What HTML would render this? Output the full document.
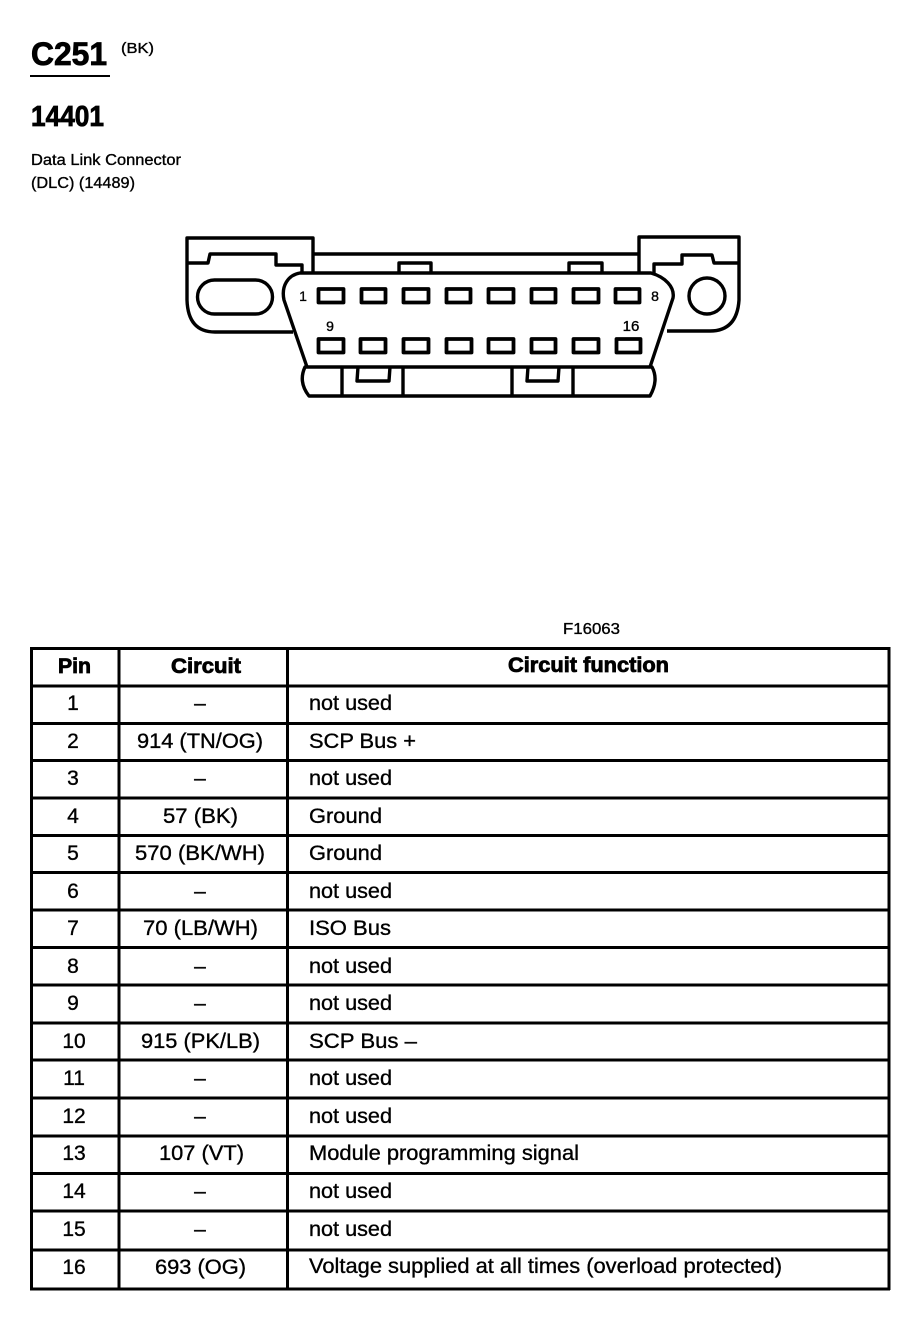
<!DOCTYPE html>
<html>
<head>
<meta charset="utf-8">
<style>
html,body{margin:0;padding:0;background:#fff;width:908px;height:1328px;overflow:hidden}
svg{display:block}
text{font-family:"Liberation Sans",Arial,sans-serif;fill:#000;stroke:#000;stroke-width:.35}
.b{font-weight:bold;stroke-width:.8}
.l{fill:none;stroke:#000;stroke-width:3.4;stroke-linejoin:round}
.p{fill:none;stroke:#000;stroke-width:3.8;stroke-linejoin:round}
.tb{stroke:#000;stroke-width:3}
.m{text-anchor:middle}
</style>
</head>
<body>
<svg width="908" height="1328" viewBox="0 0 908 1328" xmlns="http://www.w3.org/2000/svg">
<text class="b" x="31" y="65" font-size="32" textLength="76" lengthAdjust="spacingAndGlyphs">C251</text>
<text x="121" y="53" font-size="15" textLength="33" lengthAdjust="spacingAndGlyphs">(BK)</text>
<rect x="30" y="75" width="80" height="2" fill="#000"/>
<text class="b" x="31" y="126" font-size="29" textLength="73" lengthAdjust="spacingAndGlyphs">14401</text>
<text x="31" y="165" font-size="15.500" textLength="150" lengthAdjust="spacingAndGlyphs">Data Link Connector</text>
<text x="31" y="188" font-size="15.500" textLength="104" lengthAdjust="spacingAndGlyphs">(DLC) (14489)</text>

<path class="l" d="M293 332H215Q188 332 187 300V238H313V273"/>
<path class="l" d="M187 263H208L210 254H276V265H302V273"/>
<rect class="l" x="197.500" y="280" width="75" height="34" rx="17"/>
<path class="l" d="M313 254H639"/>
<path class="l" d="M399 273V263H431V273"/>
<path class="l" d="M569 273V263H602V273"/>
<path class="l" d="M307 367L284 300C281 286 288 275 300 273H651C665 277 675 287 673 298L650 367"/>
<path class="l" d="M305 367H652Q659 380 650 396H309Q298 382 305 367Z"/>
<path class="l" d="M342 367V396M403 367V396M512 367V396M573 367V396"/>
<path class="l" d="M358 367L357 381H389L390 367"/>
<path class="l" d="M528 367L527 381H558L559 367"/>
<path class="l" d="M639 273V237H739V300Q737 331 710 331H667"/>
<path class="l" d="M654 273V264H682V255H712L714 263H739"/>
<circle class="l" cx="707" cy="296" r="18"/>
<rect class="p" x="318.500" y="289" width="25" height="13.500"/>
<rect class="p" x="361.500" y="289" width="24" height="13.500"/>
<rect class="p" x="403.500" y="289" width="25" height="13.500"/>
<rect class="p" x="446.500" y="289" width="24" height="13.500"/>
<rect class="p" x="488.500" y="289" width="25" height="13.500"/>
<rect class="p" x="531.500" y="289" width="24" height="13.500"/>
<rect class="p" x="573.500" y="289" width="25" height="13.500"/>
<rect class="p" x="615.500" y="289" width="24" height="13.500"/>
<rect class="p" x="318.500" y="339" width="25" height="13.500"/>
<rect class="p" x="360.500" y="339" width="25" height="13.500"/>
<rect class="p" x="403.500" y="339" width="25" height="13.500"/>
<rect class="p" x="446.500" y="339" width="25" height="13.500"/>
<rect class="p" x="488.500" y="339" width="25" height="13.500"/>
<rect class="p" x="531.500" y="339" width="24" height="13.500"/>
<rect class="p" x="573.500" y="339" width="25" height="13.500"/>
<rect class="p" x="616.500" y="339" width="24" height="13.500"/>
<text x="303" y="301" class="m" font-size="14">1</text>
<text x="655" y="301" class="m" font-size="14">8</text>
<text x="330" y="331" class="m" font-size="14">9</text>
<text x="631" y="331" class="m" font-size="15">16</text>

<text x="563" y="634" font-size="15.500" textLength="57" lengthAdjust="spacingAndGlyphs">F16063</text>

<g class="tb">
<line x1="30" x2="890" y1="648.500" y2="648.500"/>
<line x1="30" x2="890" y1="686" y2="686"/>
<line x1="30" x2="890" y1="723.500" y2="723.500"/>
<line x1="30" x2="890" y1="760.500" y2="760.500"/>
<line x1="30" x2="890" y1="798" y2="798"/>
<line x1="30" x2="890" y1="835.500" y2="835.500"/>
<line x1="30" x2="890" y1="872.500" y2="872.500"/>
<line x1="30" x2="890" y1="910" y2="910"/>
<line x1="30" x2="890" y1="947.500" y2="947.500"/>
<line x1="30" x2="890" y1="985" y2="985"/>
<line x1="30" x2="890" y1="1023" y2="1023"/>
<line x1="30" x2="890" y1="1060" y2="1060"/>
<line x1="30" x2="890" y1="1098" y2="1098"/>
<line x1="30" x2="890" y1="1136" y2="1136"/>
<line x1="30" x2="890" y1="1173.500" y2="1173.500"/>
<line x1="30" x2="890" y1="1211" y2="1211"/>
<line x1="30" x2="890" y1="1250" y2="1250"/>
<line x1="30" x2="890" y1="1289" y2="1289"/>
<line x1="31.500" x2="31.500" y1="647" y2="1290"/>
<line x1="119" x2="119" y1="647" y2="1290"/>
<line x1="287.500" x2="287.500" y1="647" y2="1290"/>
<line x1="889" x2="889" y1="647" y2="1290"/>
</g>

<text class="b" x="58" y="673" font-size="21" textLength="33" lengthAdjust="spacingAndGlyphs">Pin</text>
<text class="b" x="171" y="673" font-size="21" textLength="70" lengthAdjust="spacingAndGlyphs">Circuit</text>
<text class="b" x="508" y="672" font-size="21" textLength="161" lengthAdjust="spacingAndGlyphs">Circuit function</text>

<text class="m" x="73" y="710" font-size="21">1</text><text class="m" x="200" y="710" font-size="21">–</text><text x="309" y="710" font-size="21" textLength="83" lengthAdjust="spacingAndGlyphs">not used</text>
<text class="m" x="73" y="748" font-size="21">2</text><text x="137" y="748" font-size="21" textLength="126" lengthAdjust="spacingAndGlyphs">914 (TN/OG)</text><text x="309" y="748" font-size="21" textLength="107" lengthAdjust="spacingAndGlyphs">SCP Bus +</text>
<text class="m" x="73" y="785" font-size="21">3</text><text class="m" x="200" y="785" font-size="21">–</text><text x="309" y="785" font-size="21" textLength="83" lengthAdjust="spacingAndGlyphs">not used</text>
<text class="m" x="73" y="823" font-size="21">4</text><text x="163" y="823" font-size="21" textLength="75" lengthAdjust="spacingAndGlyphs">57 (BK)</text><text x="309" y="823" font-size="21" textLength="73" lengthAdjust="spacingAndGlyphs">Ground</text>
<text class="m" x="73" y="860" font-size="21">5</text><text x="135" y="860" font-size="21" textLength="130" lengthAdjust="spacingAndGlyphs">570 (BK/WH)</text><text x="309" y="860" font-size="21" textLength="73" lengthAdjust="spacingAndGlyphs">Ground</text>
<text class="m" x="73" y="898" font-size="21">6</text><text class="m" x="200" y="898" font-size="21">–</text><text x="309" y="898" font-size="21" textLength="83" lengthAdjust="spacingAndGlyphs">not used</text>
<text class="m" x="73" y="935" font-size="21">7</text><text x="143" y="935" font-size="21" textLength="115" lengthAdjust="spacingAndGlyphs">70 (LB/WH)</text><text x="309" y="935" font-size="21" textLength="82" lengthAdjust="spacingAndGlyphs">ISO Bus</text>
<text class="m" x="73" y="973" font-size="21">8</text><text class="m" x="200" y="973" font-size="21">–</text><text x="309" y="973" font-size="21" textLength="83" lengthAdjust="spacingAndGlyphs">not used</text>
<text class="m" x="73" y="1010" font-size="21">9</text><text class="m" x="200" y="1010" font-size="21">–</text><text x="309" y="1010" font-size="21" textLength="83" lengthAdjust="spacingAndGlyphs">not used</text>
<text class="m" x="74" y="1048" font-size="21">10</text><text x="141" y="1048" font-size="21" textLength="119" lengthAdjust="spacingAndGlyphs">915 (PK/LB)</text><text x="309" y="1048" font-size="21" textLength="108" lengthAdjust="spacingAndGlyphs">SCP Bus –</text>
<text class="m" x="74" y="1085" font-size="21">11</text><text class="m" x="200" y="1085" font-size="21">–</text><text x="309" y="1085" font-size="21" textLength="83" lengthAdjust="spacingAndGlyphs">not used</text>
<text class="m" x="74" y="1123" font-size="21">12</text><text class="m" x="200" y="1123" font-size="21">–</text><text x="309" y="1123" font-size="21" textLength="83" lengthAdjust="spacingAndGlyphs">not used</text>
<text class="m" x="74" y="1160" font-size="21">13</text><text x="159" y="1160" font-size="21" textLength="85" lengthAdjust="spacingAndGlyphs">107 (VT)</text><text x="309" y="1160" font-size="21" textLength="270" lengthAdjust="spacingAndGlyphs">Module programming signal</text>
<text class="m" x="74" y="1198" font-size="21">14</text><text class="m" x="200" y="1198" font-size="21">–</text><text x="309" y="1198" font-size="21" textLength="83" lengthAdjust="spacingAndGlyphs">not used</text>
<text class="m" x="74" y="1236" font-size="21">15</text><text class="m" x="200" y="1236" font-size="21">–</text><text x="309" y="1236" font-size="21" textLength="83" lengthAdjust="spacingAndGlyphs">not used</text>
<text class="m" x="74" y="1274" font-size="21">16</text><text x="155" y="1274" font-size="21" textLength="91" lengthAdjust="spacingAndGlyphs">693 (OG)</text><text x="309" y="1273" font-size="21" textLength="473" lengthAdjust="spacingAndGlyphs">Voltage supplied at all times (overload protected)</text>
</svg>
</body>
</html>
